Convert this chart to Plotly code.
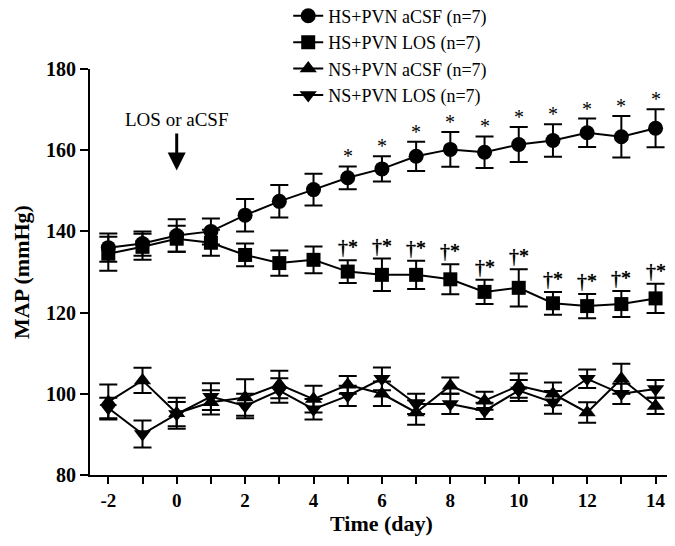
import plotly.graph_objects as go

days = list(range(-2, 15))

hs_acsf = [136, 137, 139, 140, 144, 147.4, 150.3, 153.2, 155.4, 158.5, 160.2, 159.5, 161.4, 162.4, 164.3, 163.3, 165.4]
hs_acsf_err = [3.5, 3.0, 4.0, 3.2, 4.0, 4.0, 3.9, 2.8, 3.1, 3.6, 4.3, 3.9, 4.3, 4.0, 3.5, 5.1, 4.7]

hs_los = [134.5, 136.2, 138.2, 137.2, 134.2, 132.2, 133.0, 130.1, 129.3, 129.3, 128.2, 125.1, 126.1, 122.3, 121.6, 122.1, 123.5]
hs_los_err = [4.2, 3.2, 3.2, 3.2, 2.8, 3.1, 3.3, 2.8, 4.0, 3.5, 3.7, 3.0, 4.6, 2.8, 3.0, 3.2, 3.6]

ns_acsf = [98.0, 103.3, 95.2, 97.9, 99.1, 102.3, 98.7, 102.2, 100.0, 95.4, 102.0, 98.3, 102.0, 100.0, 95.4, 103.7, 97.0]
ns_acsf_err = [4.3, 3.1, 3.8, 3.0, 4.5, 3.4, 3.3, 2.2, 3.0, 3.0, 2.0, 2.2, 3.0, 2.8, 2.5, 3.7, 2.0]

ns_los = [96.5, 90.1, 95.0, 99.3, 97.0, 100.8, 96.2, 99.5, 103.7, 97.5, 97.5, 95.8, 100.8, 97.9, 103.7, 100.0, 101.2]
ns_los_err = [2.5, 3.3, 3.0, 3.3, 3.0, 3.0, 2.5, 2.5, 2.8, 2.5, 2.5, 2.0, 2.6, 2.8, 2.3, 2.5, 2.2]

star_days = list(range(5, 15))

FONT = "Liberation Serif"

series = [
    ("HS+PVN aCSF (n=7)", hs_acsf, hs_acsf_err, "circle", 15),
    ("HS+PVN LOS (n=7)", hs_los, hs_los_err, "square", 14),
    ("NS+PVN aCSF (n=7)", ns_acsf, ns_acsf_err, "triangle-up", 15),
    ("NS+PVN LOS (n=7)", ns_los, ns_los_err, "triangle-down", 15),
]

fig = go.Figure()
for name, vals, errs, sym, sz in series:
    fig.add_trace(go.Scatter(
        x=days, y=vals, name=name, mode="lines+markers",
        line=dict(color="black", width=2),
        marker=dict(symbol=sym, size=sz, color="black"),
        error_y=dict(type="data", array=errs, visible=True, color="black",
                     thickness=2, width=9),
    ))

annotations = []
for d in star_days:
    i = days.index(d)
    annotations.append(dict(
        x=d, y=hs_acsf[i] + hs_acsf_err[i], text="*", showarrow=False,
        xref="x", yref="y", yanchor="bottom", yshift=-3,
        font=dict(family=FONT, size=20, color="black")))
    annotations.append(dict(
        x=d, y=hs_los[i] + hs_los_err[i], text="†*", showarrow=False,
        xref="x", yref="y", yanchor="bottom", yshift=0,
        font=dict(family=FONT, size=20, color="black", shadow="0px 0px 0.8px #000000")))

annotations.append(dict(
    x=0, y=155, ax=0, ay=164.5, xref="x", yref="y", axref="x", ayref="y",
    text="", showarrow=True, arrowhead=2, arrowsize=1.2, arrowwidth=3,
    arrowcolor="black"))
annotations.append(dict(
    x=0, y=167.5, text="LOS or aCSF", showarrow=False, xref="x", yref="y",
    font=dict(family=FONT, size=19, color="black")))

# page body has an 8px default margin, so the figure is sized to fit the window
fig.update_layout(
    width=667, height=538,
    margin=dict(l=82, r=2, t=61, b=71, autoexpand=False),
    paper_bgcolor="white", plot_bgcolor="white",
    font=dict(family=FONT, color="black"),
    showlegend=True,
    legend=dict(x=0.34, y=1.176, xanchor="left", yanchor="top",
                bgcolor="rgba(0,0,0,0)", font=dict(family=FONT, size=18, color="black"),
                itemwidth=30, tracegroupgap=0),
    annotations=annotations,
    xaxis=dict(
        range=[-2.535, 14.51], tickmode="array",
        tickvals=list(range(-2, 15)),
        ticktext=[str(v) if v % 2 == 0 else "" for v in range(-2, 15)],
        ticks="outside", ticklen=7, tickwidth=2, tickcolor="black",
        showline=True, linecolor="black", linewidth=2,
        showgrid=False, zeroline=False, automargin=False,
        tickfont=dict(family=FONT, size=19, color="black", weight="bold"),
        title=dict(text="Time (day)", font=dict(family=FONT, size=22, color="black", weight="bold"), standoff=2),
    ),
    yaxis=dict(
        range=[80, 180], tickvals=[80, 100, 120, 140, 160, 180],
        ticks="outside", ticklen=8, tickwidth=2, tickcolor="black",
        showline=True, linecolor="black", linewidth=2,
        showgrid=False, zeroline=False, automargin=False,
        tickfont=dict(family=FONT, size=20, color="black", weight="bold"),
        title=dict(text="MAP (mmHg)", font=dict(family=FONT, size=22, color="black", weight="bold"), standoff=10),
    ),
)

fig.write_html("out.html")
